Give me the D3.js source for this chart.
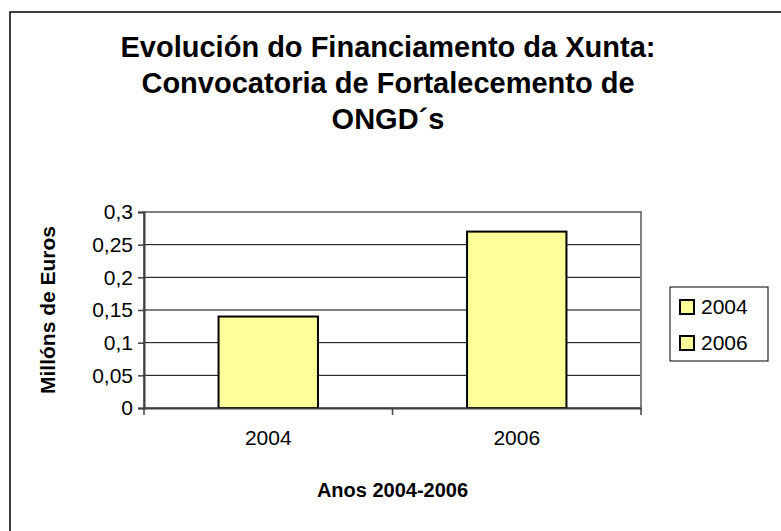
<!DOCTYPE html>
<html>
<head>
<meta charset="utf-8">
<script src="https://cdn.jsdelivr.net/npm/d3@7"></script>
<style>
  body { margin: 0; background: #fff; }
  svg text { font-family: "Liberation Sans", Arial, sans-serif; fill: #000; }
</style>
</head>
<body>
<svg id="chart" width="781" height="531"></svg>
<script>
// data
var years = ["2004", "2006"];
var values = [0.14, 0.27];
var seriesNames = ["2004", "2006"];
var yTicks = [0, 0.05, 0.1, 0.15, 0.2, 0.25, 0.3];
var titleLines = ["Evolución do Financiamento da Xunta:", "Convocatoria de Fortalecemento de", "ONGD´s"];

var barFill = "#FFFF99";

var svg = d3.select("#chart");

// outer chart border (runs off the right and bottom of the picture)
svg.append("rect")
    .attr("x", 10).attr("y", 12)
    .attr("width", 800).attr("height", 560)
    .attr("fill", "#fff")
    .attr("stroke", "#000")
    .attr("stroke-width", 1.5);

// title
svg.append("g").selectAll("text")
    .data(titleLines)
    .join("text")
    .attr("x", 388)
    .attr("y", (d, i) => 57 + i * 36)
    .attr("text-anchor", "middle")
    .style("font-size", "29px")
    .style("font-weight", "bold")
    .text(d => d);

var plot = { left: 144, right: 641, top: 212, bottom: 408 };

var x = d3.scaleBand()
    .domain(years)
    .range([plot.left, plot.right])
    .paddingInner(0.6)
    .paddingOuter(0.3);

var y = d3.scaleLinear()
    .domain([0, 0.3])
    .range([plot.bottom, plot.top]);

// gridlines
svg.append("g").selectAll("line")
    .data(yTicks.slice(1, -1))
    .join("line")
    .attr("x1", plot.left).attr("x2", plot.right)
    .attr("y1", d => y(d)).attr("y2", d => y(d))
    .attr("stroke", "#000")
    .attr("stroke-width", 1);

// plot area border
svg.append("rect")
    .attr("x", plot.left).attr("y", plot.top)
    .attr("width", plot.right - plot.left)
    .attr("height", plot.bottom - plot.top)
    .attr("fill", "none")
    .attr("stroke", "#808080")
    .attr("stroke-width", 2);

// bars
svg.append("g").selectAll("rect")
    .data(values)
    .join("rect")
    .attr("x", (d, i) => x(years[i]))
    .attr("y", d => y(d))
    .attr("width", x.bandwidth())
    .attr("height", d => y(0) - y(d))
    .attr("fill", barFill)
    .attr("stroke", "#000")
    .attr("stroke-width", 2);

// y axis
var fmt = d => String(d).replace(".", ",");
var yAxis = svg.append("g")
    .attr("transform", "translate(" + plot.left + ",0)")
    .call(d3.axisLeft(y).tickValues(yTicks).tickFormat(fmt).tickSize(6).tickPadding(5));
yAxis.select(".domain").attr("stroke", "#404040").attr("stroke-width", 2);
yAxis.selectAll(".tick line").attr("stroke", "#404040").attr("stroke-width", 1.5);
yAxis.selectAll(".tick text")
    .style("font-size", "21px")
    .style("font-family", "'Liberation Sans', Arial, sans-serif");

// x axis, with category separator ticks like Excel
var xAxis = svg.append("g")
    .attr("transform", "translate(0," + plot.bottom + ")")
    .call(d3.axisBottom(x).tickSize(0).tickPadding(22));
xAxis.select(".domain").attr("stroke", "#404040").attr("stroke-width", 2);
xAxis.selectAll(".tick text")
    .style("font-size", "21px")
    .style("font-family", "'Liberation Sans', Arial, sans-serif");
var step = (plot.right - plot.left) / years.length;
xAxis.selectAll(".sep")
    .data(d3.range(years.length + 1))
    .join("line")
    .attr("class", "sep")
    .attr("x1", d => plot.left + d * step).attr("x2", d => plot.left + d * step)
    .attr("y1", 0).attr("y2", 7)
    .attr("stroke", "#404040")
    .attr("stroke-width", 1.5);

// axis titles
svg.append("text")
    .attr("x", (plot.left + plot.right) / 2)
    .attr("y", 497)
    .attr("text-anchor", "middle")
    .style("font-size", "20px")
    .style("font-weight", "bold")
    .text("Anos 2004-2006");

svg.append("text")
    .attr("transform", "translate(55," + (plot.top + plot.bottom) / 2 + ") rotate(-90)")
    .attr("text-anchor", "middle")
    .style("font-size", "21px")
    .style("font-weight", "bold")
    .text("Millóns de Euros");

// legend
var legend = svg.append("g").attr("transform", "translate(670,287)");
legend.append("rect")
    .attr("width", 98).attr("height", 74)
    .attr("fill", "#fff")
    .attr("stroke", "#000")
    .attr("stroke-width", 1);
var items = legend.selectAll(".item")
    .data(seriesNames)
    .join("g")
    .attr("class", "item")
    .attr("transform", (d, i) => "translate(0," + (20 + i * 36) + ")");
items.append("rect")
    .attr("x", 10).attr("y", -7)
    .attr("width", 14).attr("height", 14)
    .attr("fill", barFill)
    .attr("stroke", "#000")
    .attr("stroke-width", 2);
items.append("text")
    .attr("x", 31).attr("y", 7)
    .style("font-size", "21px")
    .text(d => d);
</script>
</body>
</html>
